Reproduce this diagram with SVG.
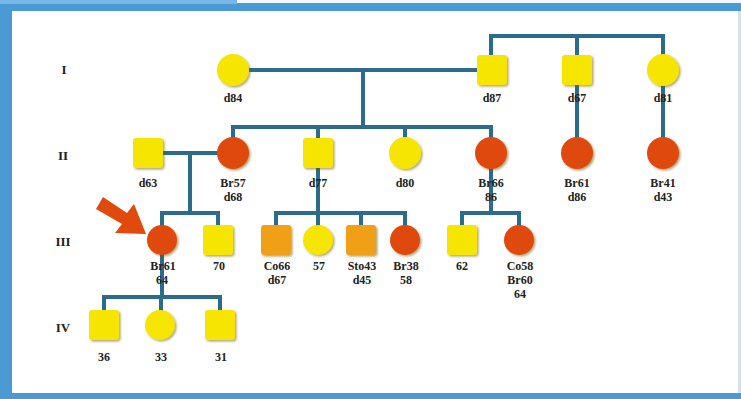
<svg xmlns="http://www.w3.org/2000/svg" width="741" height="399" viewBox="0 0 741 399">
<defs>
<filter id="sh" x="-30%" y="-30%" width="170%" height="170%">
<feDropShadow dx="1.5" dy="1.5" stdDeviation="1" flood-color="#6b5a00" flood-opacity="0.55"/>
</filter>
<style>
.ln{fill:none;stroke:#2c6b8a;stroke-width:4;stroke-linecap:square}
.y{fill:#f5e500;filter:url(#sh)}
.r{fill:#e04a0c;filter:url(#sh)}
.o{fill:#f0a018;filter:url(#sh)}
text{font-family:"Liberation Serif","Times New Roman",serif;font-weight:bold;font-size:12px;fill:#222;text-anchor:middle}
.gen{font-size:13px}
</style>
</defs>
<rect x="0" y="0" width="741" height="399" fill="#4a9ad6"/>
<rect x="237" y="0" width="504" height="3" fill="#f4f8fc"/>
<rect x="0" y="0" width="237" height="4" fill="#78b6e4"/>
<rect x="12" y="11" width="726" height="382" fill="#ffffff"/>
<rect x="738" y="11" width="3" height="382" fill="#cfe3f3"/>
<g id="generation-labels">
<text class="gen" x="64" y="74">I</text>
<text class="gen" x="63" y="160">II</text>
<text class="gen" x="63" y="246">III</text>
<text class="gen" x="63" y="332">IV</text>
</g>
<g id="connectors">
<path class="ln" d="M249,70 H477"/>
<path class="ln" d="M363,70 V127"/>
<path class="ln" d="M233,127 H491"/>
<path class="ln" d="M233,127 V137 M318,127 V139 M405,127 V138 M491,127 V138"/>
<path class="ln" d="M491,55 V36 H663 V54 M577,36 V55"/>
<path class="ln" d="M577,85 V137 M663,86 V137"/>
<path class="ln" d="M163,153 H217 M190,153 V213 M162,213 H218 M162,213 V225 M218,213 V225"/>
<path class="ln" d="M318,168 V213 M276,213 H405 M276,213 V225 M318,213 V225 M361,213 V225 M405,213 V225"/>
<path class="ln" d="M491,169 V213 M462,213 H519 M462,213 V225 M519,213 V225"/>
<path class="ln" d="M162,255 V297 M104,297 H220 M104,297 V310 M161,297 V310 M220,297 V310"/>
</g>
<g id="arrow">
<polygon points="96,209 103,197 127,213 134,204 146,234 115,233 122,224" fill="#e04a0c"/>
</g>
<g id="I-1"><circle class="y" cx="233" cy="70" r="16"/><text x="233" y="102">d84</text></g>
<g id="I-2"><rect class="y" x="477" y="55" width="30" height="30" rx="3"/><text x="492" y="102">d87</text></g>
<g id="I-3"><rect class="y" x="562" y="55" width="30" height="30" rx="3"/><text x="577" y="102">d67</text></g>
<g id="I-4"><circle class="y" cx="663" cy="70" r="16"/><text x="663" y="102">d81</text></g>
<g id="II-1"><rect class="y" x="133" y="138" width="30" height="30" rx="3"/><text x="148" y="187">d63</text></g>
<g id="II-2"><circle class="r" cx="233" cy="153" r="16"/><text x="233" y="187">Br57</text><text x="233" y="201">d68</text></g>
<g id="II-3"><rect class="y" x="303" y="138" width="30" height="30" rx="3"/><text x="318" y="187">d77</text></g>
<g id="II-4"><circle class="y" cx="405" cy="153" r="16"/><text x="405" y="187">d80</text></g>
<g id="II-5"><circle class="r" cx="491" cy="153" r="16"/><text x="491" y="187">Br66</text><text x="491" y="201">86</text></g>
<g id="II-6"><circle class="r" cx="577" cy="153" r="16"/><text x="577" y="187">Br61</text><text x="577" y="201">d86</text></g>
<g id="II-7"><circle class="r" cx="663" cy="153" r="16"/><text x="663" y="187">Br41</text><text x="663" y="201">d43</text></g>
<g id="III-1"><circle class="r" cx="162" cy="240" r="15"/><text x="163" y="270">Br61</text><text x="162" y="284">64</text></g>
<g id="III-2"><rect class="y" x="203" y="225" width="30" height="30" rx="3"/><text x="219" y="270">70</text></g>
<g id="III-3"><rect class="o" x="261" y="225" width="30" height="30" rx="3"/><text x="277" y="270">Co66</text><text x="277" y="284">d67</text></g>
<g id="III-4"><circle class="y" cx="318" cy="240" r="15"/><text x="319" y="270">57</text></g>
<g id="III-5"><rect class="o" x="346" y="225" width="30" height="30" rx="3"/><text x="362" y="270">Sto43</text><text x="362" y="284">d45</text></g>
<g id="III-6"><circle class="r" cx="405" cy="240" r="15"/><text x="406" y="270">Br38</text><text x="406" y="284">58</text></g>
<g id="III-7"><rect class="y" x="447" y="225" width="30" height="30" rx="3"/><text x="462" y="270">62</text></g>
<g id="III-8"><circle class="r" cx="519" cy="240" r="15"/><text x="520" y="270">Co58</text><text x="520" y="284">Br60</text><text x="520" y="298">64</text></g>
<g id="IV-1"><rect class="y" x="89" y="310" width="30" height="30" rx="3"/><text x="104" y="361">36</text></g>
<g id="IV-2"><circle class="y" cx="160" cy="325" r="15"/><text x="161" y="361">33</text></g>
<g id="IV-3"><rect class="y" x="205" y="310" width="30" height="30" rx="3"/><text x="221" y="361">31</text></g>
</svg>
